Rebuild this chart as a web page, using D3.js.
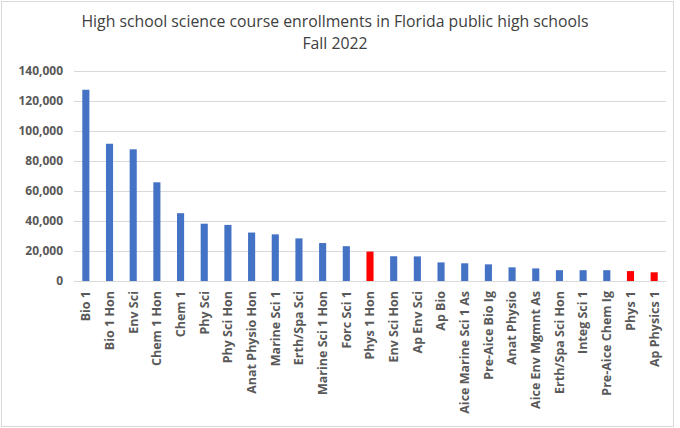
<!DOCTYPE html>
<html lang="en">
<meta charset="utf-8">
<title>Florida science course enrollments</title>
<style>
  body { margin: 0; background: #fff; }
  svg { display: block; }
</style>
<body>
<div id="chart"></div>
<script src="https://cdn.jsdelivr.net/npm/d3@7"></script>
<script>
// Course names, in the order shown on the chart
var courses = ["Bio 1", "Bio 1 Hon", "Env Sci", "Chem 1 Hon", "Chem 1", "Phy Sci",
  "Phy Sci Hon", "Anat Physio Hon", "Marine Sci 1", "Erth/Spa Sci", "Marine Sci 1 Hon",
  "Forc Sci 1", "Phys 1 Hon", "Env Sci Hon", "Ap Env Sci", "Ap Bio", "Aice Marine Sci 1 As",
  "Pre-Aice Bio Ig", "Anat Physio", "Aice Env Mgmnt As", "Erth/Spa Sci Hon", "Integ Sci 1",
  "Pre-Aice Chem Ig", "Phys 1", "Ap Physics 1"];

// Fall 2022 enrollments
var enrollments = [127500, 91500, 87800, 65800, 45200, 38200, 37400, 32300, 31100, 28400,
  25300, 23200, 19600, 16500, 16400, 12400, 11800, 11100, 9100, 8400, 7200, 7200, 7200,
  6600, 5800];

// Physics courses are highlighted in red
var highlighted = ["Phys 1 Hon", "Phys 1", "Ap Physics 1"];

var yTicks = [0, 20000, 40000, 60000, 80000, 100000, 120000, 140000];

var width = 680, height = 428;
var margin = { top: 71, right: 14, bottom: 147, left: 74 };

var svg = d3.select("#chart").append("svg")
  .attr("width", width).attr("height", height)
  .style("font-family", "'Open Sans', sans-serif");

// chart area border
svg.append("rect")
  .attr("x", 1.5).attr("y", 1.5)
  .attr("width", width - 8).attr("height", height - 3)
  .attr("fill", "#fff").attr("stroke", "#d9d9d9");

var x = d3.scaleBand()
  .domain(courses)
  .range([margin.left, width - margin.right])
  .paddingInner(0.7).paddingOuter(0.35);

var y = d3.scaleLinear()
  .domain([0, 140000])
  .range([height - margin.bottom, margin.top]);

// title
var title = svg.append("text")
  .attr("text-anchor", "middle")
  .attr("fill", "#404040").style("font-size", "15.8px");
title.append("tspan").attr("x", 335).attr("y", 27)
  .text("High school science course enrollments in Florida public high schools");
title.append("tspan").attr("x", 335).attr("y", 49).text("Fall 2022");

// y axis with gridlines
var yAxis = svg.append("g")
  .attr("transform", "translate(" + margin.left + ",0)")
  .call(d3.axisLeft(y)
    .tickValues(yTicks)
    .tickSize(-(width - margin.left - margin.right))
    .tickPadding(11)
    .tickFormat(d3.format(",")));
yAxis.select(".domain").remove();
yAxis.selectAll(".tick line").attr("stroke", "#d9d9d9");
yAxis.selectAll(".tick text")
  .attr("fill", "#595959")
  .style("font-size", "12px").style("font-weight", "700")
  .style("font-family", "'Open Sans', sans-serif");

// bars
svg.append("g").selectAll("rect")
  .data(courses)
  .join("rect")
  .attr("x", function (d) { return x(d); })
  .attr("y", function (d, i) { return y(enrollments[i]); })
  .attr("width", x.bandwidth())
  .attr("height", function (d, i) { return y(0) - y(enrollments[i]); })
  .attr("fill", function (d) { return highlighted.indexOf(d) >= 0 ? "#ff0000" : "#4472c4"; });

// x axis labels, rotated
var xAxis = svg.append("g")
  .attr("transform", "translate(0," + y(0) + ")")
  .call(d3.axisBottom(x).tickSize(0).tickPadding(0));
xAxis.select(".domain").attr("stroke", "#d9d9d9");
xAxis.selectAll(".tick text")
  .attr("transform", "rotate(-90)")
  .attr("x", -10).attr("y", 0).attr("dy", "0.35em")
  .attr("text-anchor", "end")
  .attr("fill", "#595959")
  .style("font-size", "12.5px").style("font-weight", "700")
  .style("font-family", "'Open Sans', sans-serif");
</script>
</body>
</html>
